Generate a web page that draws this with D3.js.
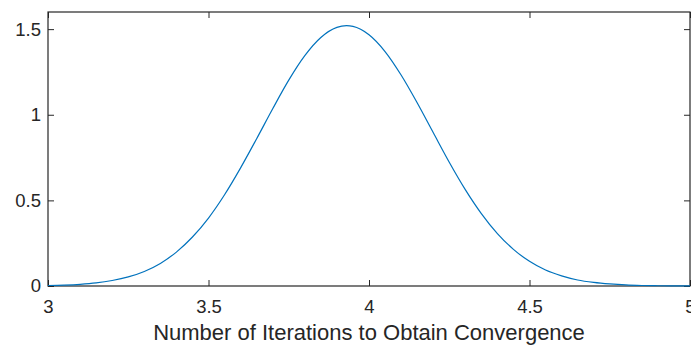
<!DOCTYPE html>
<html>
<head>
<meta charset="utf-8">
<script src="https://cdn.jsdelivr.net/npm/d3@7"></script>
<style>
  html, body { margin: 0; padding: 0; background: #fff; }
  svg { display: block; }
  text { font-family: "Liberation Sans", Arial, Helvetica, sans-serif; fill: #262626; }
</style>
</head>
<body>
<svg id="chart" width="691" height="349"></svg>
<script>
// Probability density of iterations needed to converge
const xValues = [3.00, 3.05, 3.10, 3.15, 3.20, 3.25, 3.30, 3.35, 3.40, 3.45,
                 3.50, 3.55, 3.60, 3.65, 3.70, 3.75, 3.80, 3.85, 3.90, 3.93,
                 3.95, 4.00, 4.05, 4.10, 4.15, 4.20, 4.25, 4.30, 4.35, 4.40,
                 4.45, 4.50, 4.55, 4.60, 4.65, 4.70, 4.75, 4.80, 4.85, 4.90,
                 4.95, 5.00];
const densityValues = [0.003, 0.0055, 0.010, 0.018, 0.032, 0.053, 0.085, 0.132, 0.198, 0.286,
                       0.397, 0.533, 0.690, 0.860, 1.035, 1.202, 1.345, 1.451, 1.510, 1.520,
                       1.516, 1.467, 1.369, 1.232, 1.070, 0.896, 0.723, 0.563, 0.423, 0.306,
                       0.214, 0.144, 0.093, 0.059, 0.035, 0.021, 0.012, 0.006, 0.003, 0.0016,
                       0.0008, 0.0004];
const xTicks = [3, 3.5, 4, 4.5, 5];
const yTicks = [0, 0.5, 1, 1.5];
const xLabel = "Number of Iterations to Obtain Convergence";

const svg = d3.select("#chart");
const plotLeft = 48, plotRight = 690, plotTop = 12, plotBottom = 286;
const axisColor = "#262626";
const tickLen = 6;

const x = d3.scaleLinear().domain([3, 5]).range([plotLeft, plotRight]);
const y = d3.scaleLinear().domain([0, 1.6]).range([plotBottom, plotTop]);

const fmt = d => String(d);

// Bottom axis (ticks point inward)
const gx = svg.append("g").attr("transform", `translate(0,${plotBottom})`)
  .call(d3.axisBottom(x).tickValues(xTicks).tickFormat(fmt).tickSizeInner(-tickLen).tickSizeOuter(0).tickPadding(14));
// Top axis mirror ticks
const gxt = svg.append("g").attr("transform", `translate(0,${plotTop})`)
  .call(d3.axisTop(x).tickValues(xTicks).tickFormat("").tickSizeInner(-tickLen).tickSizeOuter(0));
// Left axis
const gy = svg.append("g").attr("transform", `translate(${plotLeft},0)`)
  .call(d3.axisLeft(y).tickValues(yTicks).tickFormat(fmt).tickSizeInner(-tickLen).tickSizeOuter(0).tickPadding(7));
// Right axis mirror ticks
const gyr = svg.append("g").attr("transform", `translate(${plotRight},0)`)
  .call(d3.axisRight(y).tickValues(yTicks).tickFormat("").tickSizeInner(-tickLen).tickSizeOuter(0));

[gx, gxt, gy, gyr].forEach(g => {
  g.select(".domain").remove();
  g.selectAll(".tick line").attr("stroke", axisColor).attr("stroke-width", 1);
  g.selectAll(".tick text").attr("fill", axisColor).style("font-size", "18.5px")
    .style("font-family", '"Liberation Sans", Arial, sans-serif');
});

// Box around the plot area
svg.append("rect")
  .attr("x", plotLeft).attr("y", plotTop)
  .attr("width", plotRight - plotLeft).attr("height", plotBottom - plotTop)
  .attr("fill", "none").attr("stroke", axisColor).attr("stroke-width", 1.2);

// Density curve
const line = d3.line()
  .x((d, i) => x(xValues[i]))
  .y(d => y(d))
  .curve(d3.curveMonotoneX);

svg.append("path")
  .datum(densityValues)
  .attr("d", line)
  .attr("fill", "none")
  .attr("stroke", "#0072BD")
  .attr("stroke-width", 1.2);

// X-axis label
svg.append("text")
  .attr("x", (plotLeft + plotRight) / 2)
  .attr("y", 340)
  .attr("text-anchor", "middle")
  .style("font-size", "22px")
  .text(xLabel);
</script>
</body>
</html>
